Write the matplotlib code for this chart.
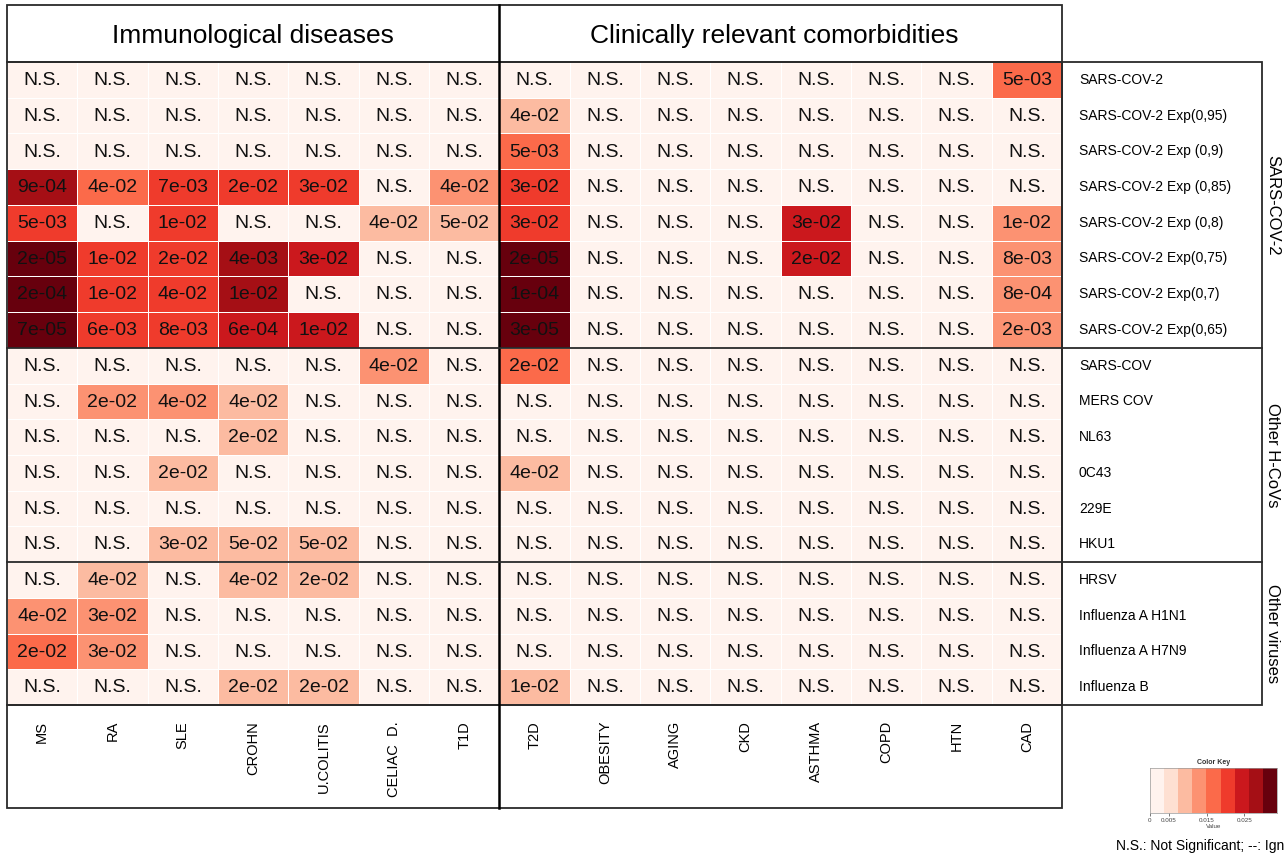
import matplotlib
matplotlib.use("Agg")
import matplotlib.pyplot as plt
from matplotlib.colors import ListedColormap, BoundaryNorm
from matplotlib.patches import Rectangle
import numpy as np

plt.rcParams['font.family'] = ['Liberation Sans', 'DejaVu Sans']

# ---------------- data ----------------
row_labels = ["SARS-COV-2", "SARS-COV-2 Exp(0,95)", "SARS-COV-2 Exp (0,9)",
              "SARS-COV-2 Exp (0,85)", "SARS-COV-2 Exp (0,8)", "SARS-COV-2 Exp(0,75)",
              "SARS-COV-2 Exp(0,7)", "SARS-COV-2 Exp(0,65)",
              "SARS-COV", "MERS COV", "NL63", "0C43", "229E", "HKU1",
              "HRSV", "Influenza A H1N1", "Influenza A H7N9", "Influenza B"]
groups = ["SARS-COV-2", "Other H-CoVs", "Other viruses"]
group_sizes = [8, 6, 4]

immuno_cols = ["MS", "RA", "SLE", "CROHN", "U.COLITIS", "CELIAC  D.", "T1D"]
comorb_cols = ["T2D", "OBESITY", "AGING", "CKD", "ASTHMA", "COPD", "HTN", "CAD"]
block_titles = ["Immunological diseases", "Clinically relevant comorbidities"]

NS = "N.S."
pval_text = [
    [NS, NS, NS, NS, NS, NS, NS, NS, NS, NS, NS, NS, NS, NS, "5e-03"],
    [NS, NS, NS, NS, NS, NS, NS, "4e-02", NS, NS, NS, NS, NS, NS, NS],
    [NS, NS, NS, NS, NS, NS, NS, "5e-03", NS, NS, NS, NS, NS, NS, NS],
    ["9e-04", "4e-02", "7e-03", "2e-02", "3e-02", NS, "4e-02", "3e-02", NS, NS, NS, NS, NS, NS, NS],
    ["5e-03", NS, "1e-02", NS, NS, "4e-02", "5e-02", "3e-02", NS, NS, NS, "3e-02", NS, NS, "1e-02"],
    ["2e-05", "1e-02", "2e-02", "4e-03", "3e-02", NS, NS, "2e-05", NS, NS, NS, "2e-02", NS, NS, "8e-03"],
    ["2e-04", "1e-02", "4e-02", "1e-02", NS, NS, NS, "1e-04", NS, NS, NS, NS, NS, NS, "8e-04"],
    ["7e-05", "6e-03", "8e-03", "6e-04", "1e-02", NS, NS, "3e-05", NS, NS, NS, NS, NS, NS, "2e-03"],
    [NS, NS, NS, NS, NS, "4e-02", NS, "2e-02", NS, NS, NS, NS, NS, NS, NS],
    [NS, "2e-02", "4e-02", "4e-02", NS, NS, NS, NS, NS, NS, NS, NS, NS, NS, NS],
    [NS, NS, NS, "2e-02", NS, NS, NS, NS, NS, NS, NS, NS, NS, NS, NS],
    [NS, NS, "2e-02", NS, NS, NS, NS, "4e-02", NS, NS, NS, NS, NS, NS, NS],
    [NS, NS, NS, NS, NS, NS, NS, NS, NS, NS, NS, NS, NS, NS, NS],
    [NS, NS, "3e-02", "5e-02", "5e-02", NS, NS, NS, NS, NS, NS, NS, NS, NS, NS],
    [NS, "4e-02", NS, "4e-02", "2e-02", NS, NS, NS, NS, NS, NS, NS, NS, NS, NS],
    ["4e-02", "3e-02", NS, NS, NS, NS, NS, NS, NS, NS, NS, NS, NS, NS, NS],
    ["2e-02", "3e-02", NS, NS, NS, NS, NS, NS, NS, NS, NS, NS, NS, NS, NS],
    [NS, NS, NS, "2e-02", "2e-02", NS, NS, "1e-02", NS, NS, NS, NS, NS, NS, NS],
]

# colour-key values read from cell shades
n = 0.002
color_value = [
    [n, n, n, n, n, n, n, n, n, n, n, n, n, n, .017],
    [n, n, n, n, n, n, n, .009, n, n, n, n, n, n, n],
    [n, n, n, n, n, n, n, .017, n, n, n, n, n, n, n],
    [.028, .017, .021, .021, .021, n, .013, .021, n, n, n, n, n, n, n],
    [.021, n, .021, n, n, .009, .009, .021, n, n, n, .024, n, n, .013],
    [.032, .021, .021, .028, .024, n, n, .032, n, n, n, .024, n, n, .013],
    [.032, .021, .021, .028, n, n, n, .032, n, n, n, n, n, n, .013],
    [.032, .021, .021, .024, .024, n, n, .032, n, n, n, n, n, n, .013],
    [n, n, n, n, n, .013, n, .017, n, n, n, n, n, n, n],
    [n, .013, .013, .009, n, n, n, n, n, n, n, n, n, n, n],
    [n, n, n, .009, n, n, n, n, n, n, n, n, n, n, n],
    [n, n, .009, n, n, n, n, .009, n, n, n, n, n, n, n],
    [n, n, n, n, n, n, n, n, n, n, n, n, n, n, n],
    [n, n, .009, .009, .009, n, n, n, n, n, n, n, n, n, n],
    [n, .009, n, .009, .009, n, n, n, n, n, n, n, n, n, n],
    [.013, .013, n, n, n, n, n, n, n, n, n, n, n, n, n],
    [.017, .013, n, n, n, n, n, n, n, n, n, n, n, n, n],
    [n, n, n, .009, .009, n, n, .009, n, n, n, n, n, n, n],
]

key_max = 0.0336
key_ticks = [0, 0.005, 0.015, 0.025]
key_tick_labels = ["0", "0.005", "0.015", "0.025"]
reds9 = ["#FFF3EE", "#FEE0D2", "#FCBBA1", "#FC9272", "#FB6A4A",
         "#EF3B2C", "#CB181D", "#A50F15", "#67000D"]
footnote = "N.S.: Not Significant; --: Ign"

# ---------------- figure ----------------
W, H = 1288, 865
fig = plt.figure(figsize=(W / 100, H / 100), dpi=100)
fig.patch.set_facecolor("white")

def fax(x0, y0, x1, y1):
    return [x0 / W, 1 - y1 / H, (x1 - x0) / W, (y1 - y0) / H]

gx0, gx1, gy0, gy1 = 7, 1062, 62, 705
cols = immuno_cols + comorb_cols
nr, nc = len(row_labels), len(cols)
vals = np.array(color_value)

cmap = ListedColormap(reds9)
bounds = np.linspace(0, key_max, len(reds9) + 1)
norm = BoundaryNorm(bounds, cmap.N)

ax = fig.add_axes(fax(gx0, gy0, gx1, gy1))
ax.pcolormesh(np.arange(nc + 1), np.arange(nr + 1), vals, cmap=cmap, norm=norm,
              edgecolors="white", linewidth=0.6)
ax.set_xlim(0, nc)
ax.set_ylim(nr, 0)
ax.axis("off")
for i in range(nr):
    for j in range(nc):
        ax.text(j + 0.5, i + 0.52, pval_text[i][j], ha="center", va="center",
                fontsize=14, color="#111111")

# overlay for boxes and labels (pixel coords)
ov = fig.add_axes([0, 0, 1, 1], zorder=5)
ov.set_xlim(0, W)
ov.set_ylim(H, 0)
ov.axis("off")
lc = "#2a2a2a"
lw = 1.3
split_x = gx0 + len(immuno_cols) * (gx1 - gx0) / nc
rowh = (gy1 - gy0) / nr

# title box
ov.add_patch(Rectangle((gx0, 5), gx1 - gx0, gy0 - 5, fill=False, ec=lc, lw=lw))
ov.text((gx0 + split_x) / 2, 36, block_titles[0], ha="center", va="center", fontsize=19)
ov.text((split_x + gx1) / 2 - 6, 36, block_titles[1], ha="center", va="center", fontsize=19)
# grid frame
ov.add_patch(Rectangle((gx0, gy0), gx1 - gx0, gy1 - gy0, fill=False, ec=lc, lw=lw))
# bottom labels box
by1 = 808
ov.add_patch(Rectangle((gx0, gy1), gx1 - gx0, by1 - gy1, fill=False, ec=lc, lw=lw))
# vertical divider
ov.plot([split_x, split_x], [5, by1], color="black", lw=1.8)
# row label box
lx1 = 1262
ov.add_patch(Rectangle((gx1, gy0), lx1 - gx1, gy1 - gy0, fill=False, ec=lc, lw=lw))

# column labels
cw = (gx1 - gx0) / nc
for j, c in enumerate(cols):
    ov.text(gx0 + (j + 0.5) * cw, 721, c, rotation=90, ha="center", va="top", fontsize=10.5)

# row labels
for i, r in enumerate(row_labels):
    ov.text(1079, gy0 + (i + 0.5) * rowh, r, ha="left", va="center", fontsize=10)

# group separators and group labels
start = 0
for g, s in zip(groups, group_sizes):
    yc = gy0 + (start + s / 2) * rowh
    ov.text(1273, yc, g, rotation=270, ha="center", va="center", fontsize=12)
    start += s
    if start < nr:
        ys = gy0 + start * rowh
        ov.plot([gx0, lx1], [ys, ys], color=lc, lw=lw)

# footnote
ov.text(1284, 846, footnote, ha="right", va="center", fontsize=10)

# colour key
kax = fig.add_axes(fax(1150, 768, 1277, 813))
kax.pcolormesh(bounds, [0, 1], np.array([(bounds[:-1] + bounds[1:]) / 2]),
               cmap=cmap, norm=norm)
kax.set_xlim(0, key_max)
kax.set_ylim(0, 1)
kax.set_yticks([])
kax.set_xticks(key_ticks)
kax.set_xticklabels(key_tick_labels, fontsize=4.5, color="#444444")
kax.tick_params(axis="x", length=2, width=0.5, pad=1.5, colors="#444444")
kax.set_xlabel("Value", fontsize=4.5, labelpad=1, color="#444444")
kax.set_title("Color Key", fontsize=5, fontweight="bold", pad=3, color="#333333")
for sp in kax.spines.values():
    sp.set_linewidth(0.5)
    sp.set_color("#999999")

fig.savefig("out.png", dpi=100, facecolor="white")
